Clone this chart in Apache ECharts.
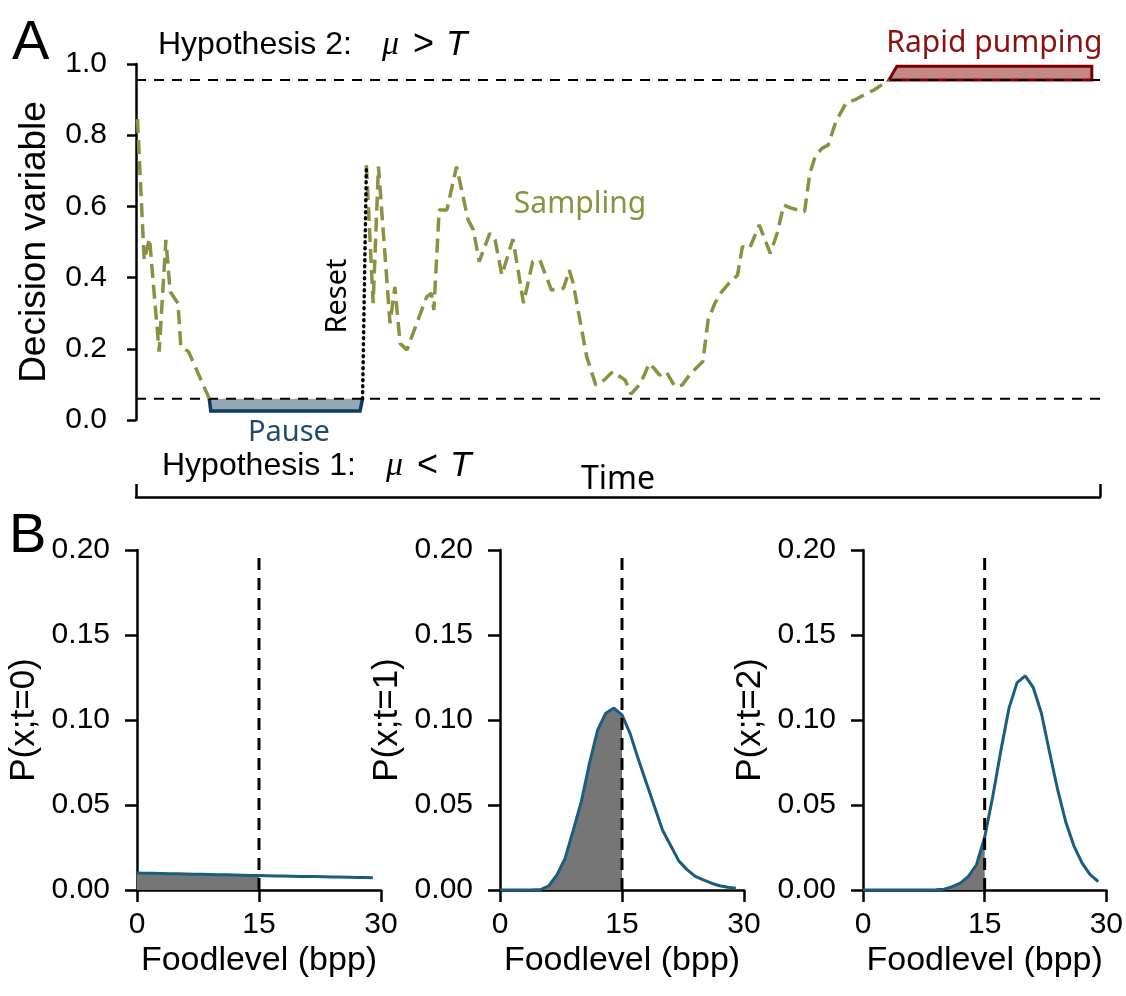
<!DOCTYPE html>
<html>
<head>
<meta charset="utf-8">
<script src="https://cdn.jsdelivr.net/npm/echarts@6/dist/echarts.min.js"></script>
<style>
  html, body { margin: 0; padding: 0; background: #fff; }
  #chart { width: 1126px; height: 996px; }
</style>
</head>
<body>
<div id="chart"></div>
<script>
// ---- Panel A: decision variable over time ----
// sampling before the pause
const timeA1 = [0.3, 1.7, 2.8, 4.8, 6.2, 7.1, 8.7, 9.3, 10.9, 12.6, 15.2];
const decisionA1 = [0.845, 0.449, 0.510, 0.192, 0.506, 0.360, 0.328, 0.206, 0.192, 0.140, 0.060];
// sampling after the reset
const timeA2 = [47.8, 49.2, 50.3, 52.7, 53.7, 54.8, 56.2, 60.3, 61.3, 61.8, 62.9, 64.5, 66.5, 68.9, 70.0,
  71.2, 73.4, 74.5, 75.9, 78.2, 80.4, 82.3, 83.8, 86.2, 88.7, 89.9, 90.7, 93.5, 95.4, 97.1, 98.9, 100.0,
  101.5, 102.7, 104.7, 106.5, 107.5, 108.6, 110.0, 111.8, 113.3, 115.1, 117.6, 118.7, 120.1, 121.5, 123.0,
  124.8, 125.8, 127.3, 129.3, 131.6, 133.0, 134.4, 135.9, 138.7, 139.8, 140.9, 142.3, 143.6, 145.2, 147.3,
  149.1, 150.6, 153.1, 156.2];
const decisionA2 = [0.716, 0.328, 0.712, 0.272, 0.374, 0.215, 0.197, 0.346, 0.356, 0.309, 0.590, 0.590,
  0.712, 0.562, 0.534, 0.445, 0.524, 0.506, 0.407, 0.508, 0.328, 0.445, 0.449, 0.365, 0.370, 0.421, 0.384,
  0.178, 0.098, 0.112, 0.136, 0.126, 0.112, 0.073, 0.103, 0.159, 0.145, 0.126, 0.136, 0.094, 0.098, 0.131,
  0.164, 0.281, 0.328, 0.360, 0.384, 0.407, 0.487, 0.482, 0.548, 0.468, 0.524, 0.604, 0.595, 0.585, 0.693,
  0.740, 0.763, 0.772, 0.838, 0.890, 0.899, 0.910, 0.927, 0.955];
const decisionBounds = [0.060, 0.955];      // lower / upper decision thresholds
const timeRange = [0, 200];
const pauseSpan = [15.2, 47.0];             // time interval of the pause
const pauseFloor = 0.025;
const pumpSpan = [156.2, 198.3];            // time interval of rapid pumping
const pumpCeil = 0.994;
const yTicksA = [0, 0.2, 0.4, 0.6, 0.8, 1.0];

// ---- Panel B: posterior over food level ----
const foodLevels = [0, 1, 2, 3, 4, 5, 6, 7, 8, 9, 10, 11, 12, 13, 14, 15, 16, 17, 18, 19, 20, 21, 22, 23, 24, 25, 26, 27, 28, 29];
const probT0 = [0.0100, 0.0099, 0.0098, 0.0097, 0.0096, 0.0095, 0.0094, 0.0093, 0.0092, 0.0091, 0.0090,
  0.0089, 0.0088, 0.0087, 0.0086, 0.0085, 0.0084, 0.0083, 0.0082, 0.0081, 0.0080, 0.0079, 0.0079, 0.0078,
  0.0077, 0.0076, 0.0075, 0.0074, 0.0073, 0.0072];
const probT1 = [0.0000, 0.0000, 0.0000, 0.0000, 0.0001, 0.0003, 0.0025, 0.0089, 0.0186, 0.035, 0.052,
  0.0745, 0.094, 0.104, 0.107, 0.103, 0.092, 0.077, 0.063, 0.049, 0.035, 0.026, 0.017, 0.012, 0.008,
  0.0059, 0.004, 0.0025, 0.0016, 0.001];
const probT2 = [0.0000, 0.0000, 0.0000, 0.0000, 0.0000, 0.0000, 0.0000, 0.0000, 0.0000, 0.0001, 0.0005,
  0.002, 0.004, 0.008, 0.015, 0.031, 0.055, 0.082, 0.107, 0.122, 0.126, 0.119, 0.104, 0.081, 0.059,
  0.040, 0.026, 0.016, 0.009, 0.005];
const foodThreshold = 15;
const foodTicks = [0, 15, 30];
const probTicks = [0, 0.05, 0.10, 0.15, 0.20];

const OLIVE = '#8a9140';
const BLUE = '#1a5e7f';
const GREY = '#767676';
const CM = '"Liberation Sans", Arial, sans-serif';
const FIRA = '"Noto Sans", "Open Sans", sans-serif';

const pairs = (xs, ys) => xs.map((x, i) => [x, ys[i]]);

const chart = echarts.init(document.getElementById('chart'), null, { renderer: 'canvas' });

// Box marking a behavioural state attached to a decision threshold
function stateBox(opts) {
  return function (params, api) {
    const x0 = api.value(0), x1 = api.value(1), yEdge = api.value(2), yFar = api.value(3);
    const e0 = api.coord([x0, yEdge]), e1 = api.coord([x1, yEdge]);
    const f0 = api.coord([x0, yFar]), f1 = api.coord([x1, yFar]);
    const pts = [
      e0,
      [f0[0] + opts.slantL, f0[1]],
      [f1[0] - opts.slantR, f1[1]],
      e1
    ];
    const children = [
      { type: 'polygon', shape: { points: pts }, style: { fill: opts.fill, stroke: opts.closed ? opts.stroke : null, lineWidth: 3 } }
    ];
    if (!opts.closed) {
      children.push({ type: 'polyline', shape: { points: pts }, style: { fill: null, stroke: opts.stroke, lineWidth: 3.5 } });
    }
    children.push({
      type: 'text',
      x: (f0[0] + f1[0]) / 2 + opts.labelDx,
      y: f0[1] + opts.labelDy,
      style: { text: opts.label, fill: opts.labelColor, fontSize: opts.fontSize, fontFamily: FIRA, align: 'center', verticalAlign: 'middle' }
    });
    return { type: 'group', children };
  };
}

const hypothesisRich = {
  m: { fontSize: 34, fontStyle: 'italic', fontFamily: '"Liberation Serif", serif', padding: [0, 0, 0, 30] },
  o: { fontSize: 36, fontFamily: CM, padding: [0, 12, 0, 14] },
  t: { fontSize: 35, fontStyle: 'italic', fontFamily: CM }
};

const gridsB = [137, 500, 863];
const probs = [probT0, probT1, probT2];

const option = {
  animation: false,
  backgroundColor: '#fff',
  grid: [
    { left: 136, top: 64, width: 964, height: 356 },
    ...gridsB.map(l => ({ left: l, top: 550, width: 244, height: 340 }))
  ],
  xAxis: [
    {
      gridIndex: 0, type: 'value', min: timeRange[0], max: timeRange[1], interval: timeRange[1] - timeRange[0],
      position: 'bottom', offset: 77,
      axisLine: { show: true, onZero: false, lineStyle: { color: '#000', width: 2.5 } },
      axisTick: { show: true, inside: true, length: 13, lineStyle: { color: '#000', width: 2.5 } },
      axisLabel: { show: false }, splitLine: { show: false },
      name: 'Time', nameLocation: 'middle', nameGap: -33,
      nameTextStyle: { color: '#000', fontSize: 32, fontFamily: FIRA }
    },
    ...gridsB.map((l, i) => ({
      gridIndex: i + 1, type: 'value', min: foodTicks[0], max: foodTicks[2], interval: foodTicks[1] - foodTicks[0],
      axisLine: { show: true, onZero: false, lineStyle: { color: '#000', width: 2.5 } },
      axisTick: { show: true, length: 12, lineStyle: { color: '#000', width: 2.5 } },
      axisLabel: { color: '#000', fontSize: 30, fontFamily: CM, margin: 20 },
      splitLine: { show: false },
      name: 'Foodlevel (bpp)', nameLocation: 'middle', nameGap: 54,
      nameTextStyle: { color: '#000', fontSize: 34, fontFamily: CM }
    }))
  ],
  yAxis: [
    {
      gridIndex: 0, type: 'value', min: yTicksA[0], max: yTicksA[yTicksA.length - 1], interval: yTicksA[1] - yTicksA[0],
      offset: 5,
      axisLine: { show: true, lineStyle: { color: '#000', width: 2.5 } },
      axisTick: { show: true, length: 9, lineStyle: { color: '#000', width: 2.5 } },
      axisLabel: { color: '#000', fontSize: 30, fontFamily: CM, margin: 24, formatter: v => v.toFixed(1) },
      splitLine: { show: false },
      name: 'Decision variable', nameLocation: 'middle', nameGap: 78,
      nameTextStyle: { color: '#000', fontSize: 37, fontFamily: CM }
    },
    ...gridsB.map((l, i) => ({
      gridIndex: i + 1, type: 'value', min: probTicks[0], max: probTicks[probTicks.length - 1], interval: probTicks[1] - probTicks[0],
      axisLine: { show: true, lineStyle: { color: '#000', width: 2.5 } },
      axisTick: { show: true, length: 12, lineStyle: { color: '#000', width: 2.5 } },
      axisLabel: { color: '#000', fontSize: 30, fontFamily: CM, margin: 27, formatter: v => v.toFixed(2) },
      splitLine: { show: false },
      name: 'P(x;t=' + i + ')', nameLocation: 'middle', nameGap: 95,
      nameTextStyle: { color: '#000', fontSize: 35, fontFamily: CM }
    }))
  ],
  series: [
    // state boxes
    {
      type: 'custom', xAxisIndex: 0, yAxisIndex: 0, clip: false, z: 2,
      encode: { x: [0, 1], y: [2, 3] },
      data: [[pauseSpan[0], pauseSpan[1], decisionBounds[0], pauseFloor]],
      renderItem: stateBox({ fill: '#93a8b4', stroke: '#0c3c5e', closed: false, slantL: 1.5, slantR: 2.5,
        label: 'Pause', labelColor: '#1d4c70', fontSize: 29, labelDx: 3, labelDy: 22 })
    },
    {
      type: 'custom', xAxisIndex: 0, yAxisIndex: 0, clip: false, z: 2,
      encode: { x: [0, 1], y: [2, 3] },
      data: [[pumpSpan[0], pumpSpan[1], decisionBounds[1], pumpCeil]],
      renderItem: stateBox({ fill: '#c68787', stroke: '#7b0000', closed: true, slantL: 8, slantR: 0,
        label: 'Rapid pumping', labelColor: '#8b1010', fontSize: 30, labelDx: 4, labelDy: -23 })
    },
    // decision thresholds
    ...decisionBounds.map(b => ({
      type: 'line', xAxisIndex: 0, yAxisIndex: 0, z: 3, symbol: 'none', silent: true,
      data: [[timeRange[0], b], [timeRange[1], b]],
      lineStyle: { color: '#000', width: 2, type: [10, 8] }
    })),
    // sampling trajectories
    {
      type: 'line', xAxisIndex: 0, yAxisIndex: 0, z: 4, symbol: 'none',
      data: pairs(timeA1, decisionA1),
      lineStyle: { color: OLIVE, width: 3.5, type: [14, 7] }
    },
    {
      type: 'line', xAxisIndex: 0, yAxisIndex: 0, z: 4, symbol: 'none',
      data: pairs(timeA2, decisionA2),
      lineStyle: { color: OLIVE, width: 3.5, type: [14, 7] }
    },
    // reset jump
    {
      type: 'line', xAxisIndex: 0, yAxisIndex: 0, z: 5, symbol: 'none',
      data: [[pauseSpan[1], decisionBounds[0]], [timeA2[0], decisionA2[0]]],
      lineStyle: { color: '#000', width: 3.5, type: [1, 5], cap: 'round' }
    },
    // panel B: shaded mass below threshold, density curve, threshold
    ...probs.flatMap((p, i) => [
      {
        type: 'line', xAxisIndex: i + 1, yAxisIndex: i + 1, z: 2, symbol: 'none',
        data: pairs(foodLevels, p).filter(d => d[0] <= foodThreshold),
        lineStyle: { width: 0 },
        areaStyle: { color: GREY, opacity: 1 }
      },
      {
        type: 'line', xAxisIndex: i + 1, yAxisIndex: i + 1, z: 3, symbol: 'none',
        data: pairs(foodLevels, p),
        lineStyle: { color: BLUE, width: 3 }
      },
      {
        type: 'line', xAxisIndex: i + 1, yAxisIndex: i + 1, z: 4, symbol: 'none',
        data: [[foodThreshold, probTicks[0]], [foodThreshold, probTicks[probTicks.length - 1]]],
        lineStyle: { color: '#000', width: 3, type: [12, 8] }
      }
    ])
  ],
  graphic: [
    { type: 'text', x: 12, y: 44, style: { text: 'A', fontSize: 56, fontFamily: CM, fill: '#000', verticalAlign: 'middle' } },
    { type: 'text', x: 9, y: 537, style: { text: 'B', fontSize: 56, fontFamily: CM, fill: '#000', verticalAlign: 'middle' } },
    {
      type: 'text', x: 158, y: 45,
      style: {
        text: 'Hypothesis 2:{m|μ}{o|>}{t|T}', fontSize: 32, fontFamily: CM, fill: '#000', verticalAlign: 'middle',
        rich: hypothesisRich
      }
    },
    {
      type: 'text', x: 162, y: 466,
      style: {
        text: 'Hypothesis 1:{m|μ}{o|<}{t|T}', fontSize: 32, fontFamily: CM, fill: '#000', verticalAlign: 'middle',
        rich: hypothesisRich
      }
    },
    { type: 'text', x: 580, y: 204, style: { text: 'Sampling', fontSize: 30, fontFamily: FIRA, fill: OLIVE, align: 'center', verticalAlign: 'middle' } },
    { type: 'text', x: 338, y: 296, rotation: Math.PI / 2, style: { text: 'Reset', fontSize: 29, fontFamily: FIRA, fill: '#000', align: 'center', verticalAlign: 'middle' } }
  ]
};

chart.setOption(option);
</script>
</body>
</html>
